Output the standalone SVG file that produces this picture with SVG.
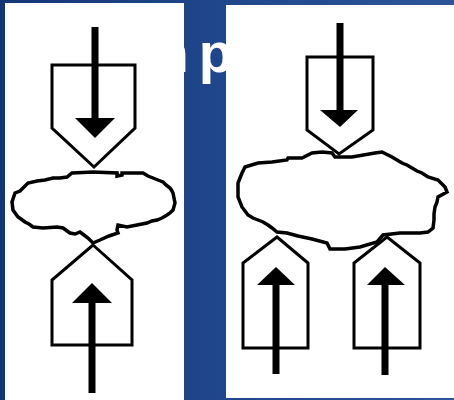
<svg xmlns="http://www.w3.org/2000/svg" width="454" height="400" viewBox="0 0 454 400">
<defs>
<linearGradient id="bg" x1="0" y1="0" x2="1" y2="0">
<stop offset="0" stop-color="#123777"/>
<stop offset="0.5" stop-color="#20468c"/>
<stop offset="1" stop-color="#2d5499"/>
</linearGradient>
<style>
.panel{fill:#ffffff}
.shape{fill:none;stroke:#000;stroke-width:3;stroke-linejoin:miter}
.cloud{fill:#fff;stroke:#000;stroke-width:3.5;stroke-linejoin:miter}
.shaft{stroke:#000;stroke-width:7;fill:none}
.head{fill:#000}
.title{font-family:"Liberation Sans",Arial,sans-serif;font-weight:bold;fill:#fff}
</style>
</defs>
<rect x="0" y="0" width="454" height="400" fill="url(#bg)"/>
<text class="title" x="139" y="72" font-size="56">m<tspan dx="10">p</tspan></text>
<rect class="panel" x="5" y="3" width="179" height="397"/>
<rect class="panel" x="226" y="5" width="228" height="393"/>

<g id="left-top-port">
<polygon class="shape" points="52,65 135,65 135,128 94,167 52,128"/>
</g>
<g id="left-cloud">
<polygon class="cloud" points="72,173 93,172 117,173 117,176 122,175 122,173 143,173 148,176 153,178 158,180 163,182 166,185 170,188 172,191 173,193 175,203 173,210 170,213 167,215 162,218 157,220 152,221 147,223 137,225 127,227 118,225 117,230 118,233 109,236 100,240 93,243 88,238 84,235 80,232 75,234 70,233 63,228 57,227 43,228 33,227 29,224 25,222 21,219 18,217 13,210 12,202 15,193 20,191 23,188 28,183 37,181 45,180 53,178 60,178 67,177"/>
</g>
<g id="left-bottom-port">
<polygon class="shape" points="93,245 132,280 132,345 52,345 52,280"/>
</g>

<g id="right-top-port">
<polygon class="shape" points="307,57 373,57 373,130 339,154 307,130"/>
</g>
<g id="right-cloud">
<polygon class="cloud" points="245,167 258,163 272,162 287,160 288,158 302,158 312,153 322,152 332,153 335,157 352,157 375,153 382,152 392,157 397,160 402,163 407,165 412,168 417,171 422,173 428,177 438,180 442,184 445,187 447,192 438,197 437,202 435,207 434,214 434,220 433,228 428,232 420,233 400,233 383,235 377,242 360,247 345,249 330,249 327,243 312,239 298,236 287,233 277,232 272,228 268,225 263,222 258,220 253,218 248,215 242,207 238,197 238,183 240,178 242,173"/>
</g>
<g id="right-bottom-port-a">
<polygon class="shape" points="277,237 308,263 308,348 243,348 243,263"/>
</g>
<g id="right-bottom-port-b">
<polygon class="shape" points="387,237 420,263 420,348 354,348 354,263"/>
</g>

<g id="connectors">
<line class="shaft" x1="95" y1="27" x2="95" y2="120"/>
<polygon class="head" points="75,118 115,118 95,138"/>
<line class="shaft" x1="92" y1="393" x2="92" y2="301"/>
<polygon class="head" points="72,303 112,303 92,283"/>
<line class="shaft" x1="340" y1="23" x2="340" y2="112"/>
<polygon class="head" points="320,110 358,110 340,127"/>
<line class="shaft" x1="276" y1="374" x2="276" y2="283"/>
<polygon class="head" points="257,285 295,285 276,267"/>
<line class="shaft" x1="385" y1="375" x2="385" y2="283"/>
<polygon class="head" points="367,285 405,285 385,267"/>
</g>
</svg>
